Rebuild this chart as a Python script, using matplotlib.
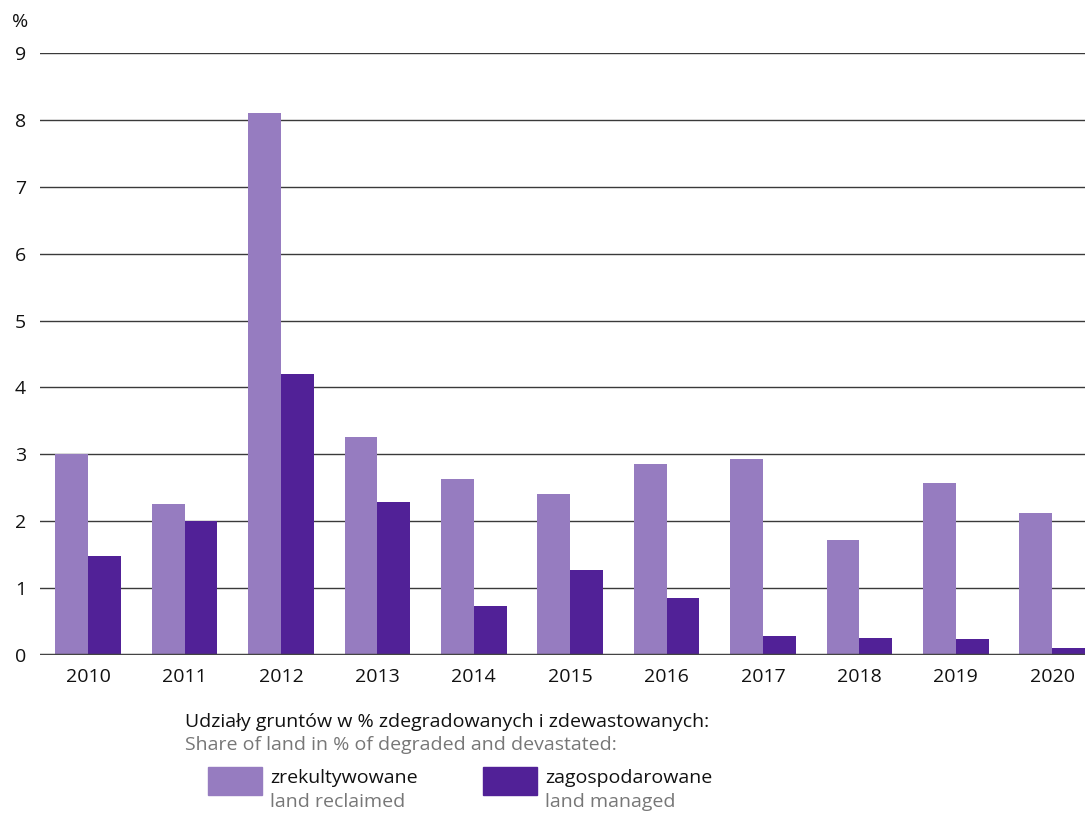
import matplotlib.pyplot as plt
from matplotlib.patches import Rectangle
import numpy as np

plt.rcParams['font.family'] = ['Open Sans', 'DejaVu Sans']

years = ["2010", "2011", "2012", "2013", "2014", "2015", "2016", "2017", "2018", "2019", "2020"]
reclaimed = [3.0, 2.26, 8.1, 3.26, 2.63, 2.41, 2.85, 2.93, 1.72, 2.57, 2.12]
managed = [1.48, 2.0, 4.2, 2.29, 0.73, 1.27, 0.85, 0.28, 0.25, 0.24, 0.10]

light = '#967cc0'
dark = '#512197'
W, H = 1085, 815
fs = 14

fig = plt.figure(figsize=(W / 100, H / 100), dpi=100)
ax = fig.add_axes([40 / W, 1 - 655 / H, 1 - 40 / W, (655 - 53) / H])

x = np.arange(len(years))
bw = 0.34
ax.bar(x - bw / 2, reclaimed, bw, color=light, zorder=3)
ax.bar(x + bw / 2, managed, bw, color=dark, zorder=3)

ax.set_ylim(0, 9)
ax.set_xlim(-0.5, 10.34)
ax.set_yticks(range(10))
ax.set_xticks(x)
ax.set_xticklabels(years)
ax.grid(axis='y', color='#3a3a3a', linewidth=1.0, zorder=1)
ax.axhline(0, color='#444444', linewidth=2.5, zorder=4)
for s in ax.spines.values():
    s.set_visible(False)
ax.tick_params(axis='both', length=0, labelsize=fs, colors='#111111')
ax.tick_params(axis='y', pad=10)
ax.tick_params(axis='x', pad=9)

fig.text(12 / W, 1 - 22 / H, "%", fontsize=fs, va='center', ha='left', color='#111111')

# legend block
fig.text(185 / W, 1 - 722 / H, "Udziały gruntów w % zdegradowanych i zdewastowanych:",
         fontsize=fs, va='center', ha='left', color='#111111')
fig.text(185 / W, 1 - 745 / H, "Share of land in % of degraded and devastated:",
         fontsize=fs, va='center', ha='left', color='#777777')

for px, col, pl, en in [(208, light, "zrekultywowane", "land reclaimed"),
                        (483, dark, "zagospodarowane", "land managed")]:
    fig.add_artist(Rectangle((px / W, 1 - 795 / H), 54 / W, 28 / H,
                             transform=fig.transFigure, color=col))
    fig.text((px + 62) / W, 1 - 778 / H, pl, fontsize=fs, va='center', ha='left', color='#111111')
    fig.text((px + 62) / W, 1 - 802 / H, en, fontsize=fs, va='center', ha='left', color='#777777')

fig.savefig("out.png", dpi=100)
